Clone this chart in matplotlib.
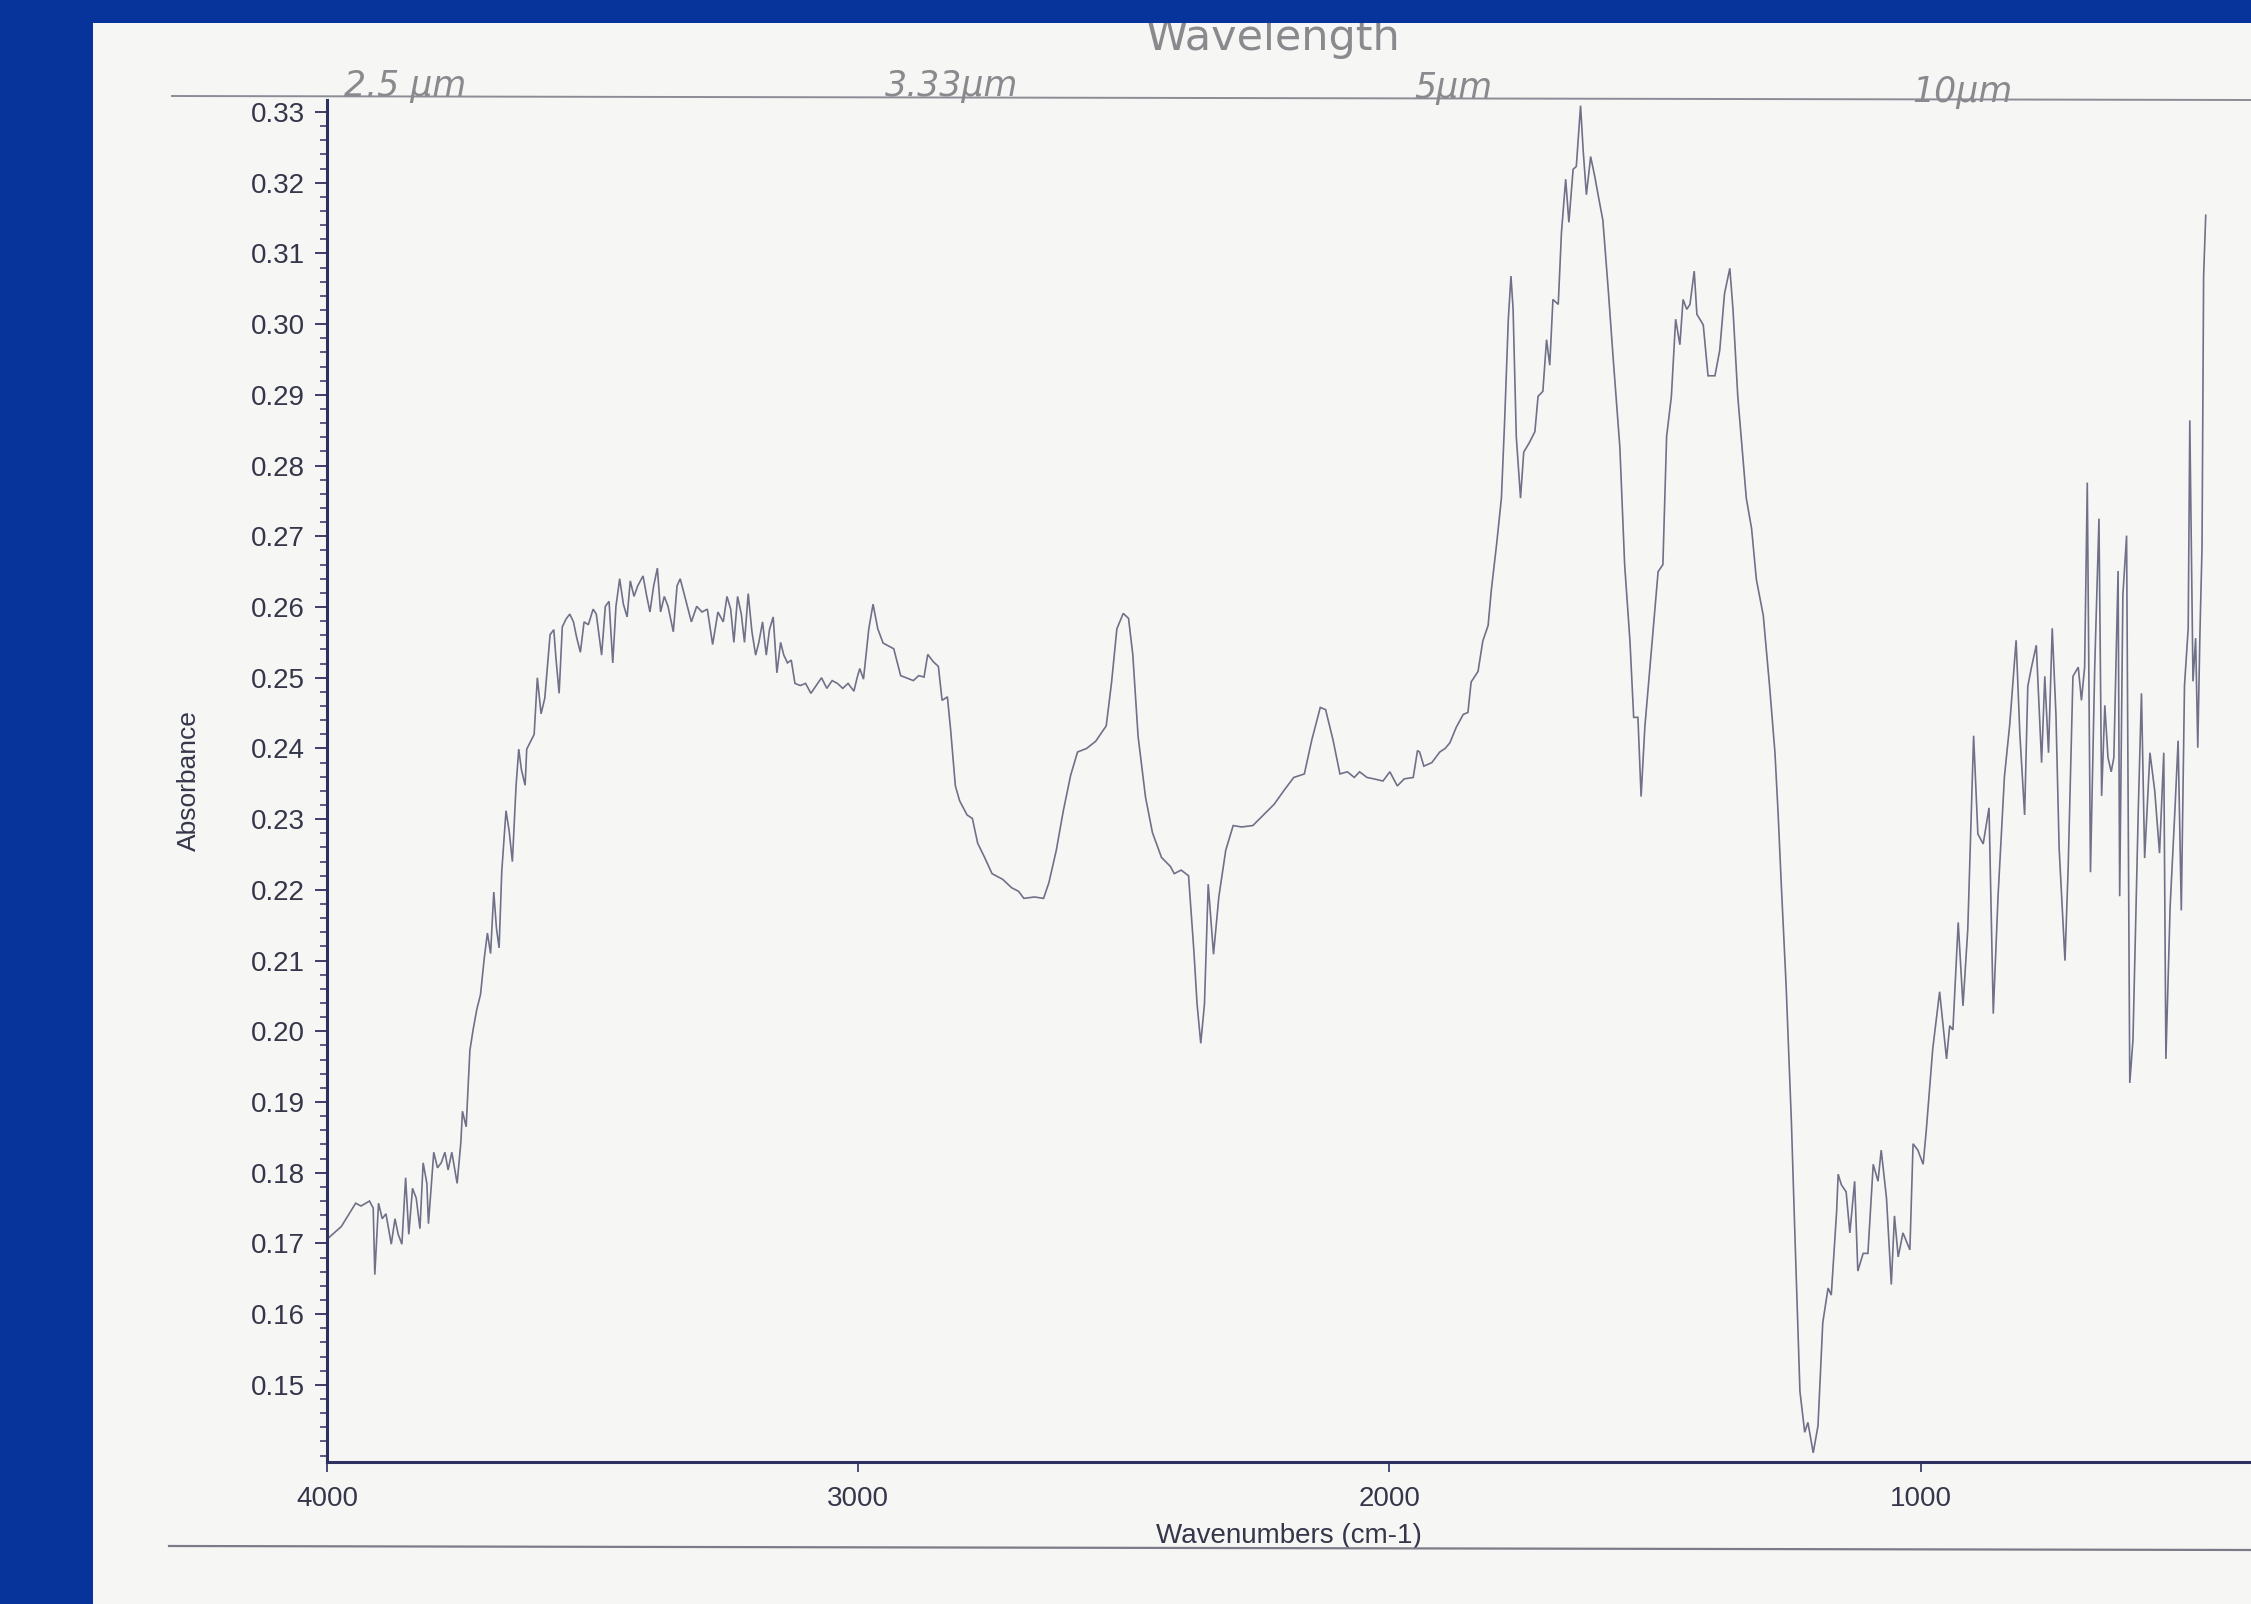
import matplotlib
matplotlib.use("Agg")
import matplotlib.pyplot as plt
from matplotlib.patches import Rectangle
from matplotlib.lines import Line2D
from matplotlib.ticker import MultipleLocator, FixedLocator

# ---------------- data ----------------
wavenumber = [
    4000, 3973, 3946, 3936, 3920, 3913, 3910, 3903, 3896, 3889, 3879, 3872, 3866, 3859, 3852,
    3846, 3839, 3832, 3825, 3819, 3812, 3809, 3799, 3792, 3785, 3778, 3772, 3765, 3755, 3748,
    3745, 3738, 3731, 3725, 3718, 3711, 3704, 3698, 3692, 3686, 3681, 3676, 3671, 3663, 3657,
    3651, 3644, 3639, 3634, 3627, 3624, 3610, 3604, 3597, 3590, 3580, 3573, 3569, 3563, 3557,
    3550, 3543, 3536, 3530, 3523, 3516, 3508, 3499, 3493, 3483, 3476, 3469, 3462, 3456, 3449,
    3442, 3435, 3429, 3422, 3415, 3405, 3398, 3392, 3385, 3378, 3372, 3365, 3358, 3348, 3341,
    3335, 3325, 3314, 3304, 3294, 3284, 3274, 3264, 3254, 3247, 3240, 3234, 3227, 3220, 3214,
    3207, 3200, 3193, 3187, 3180, 3173, 3167, 3160, 3153, 3146, 3140, 3133, 3126, 3119, 3109,
    3099, 3089, 3079, 3069, 3059, 3049, 3039, 3029, 3019, 3008, 3002,
    2997, 2990, 2980, 2972, 2963, 2953, 2933, 2920, 2896, 2886, 2876, 2869, 2859, 2849, 2842,
    2832, 2826, 2817, 2809, 2795, 2785, 2775, 2762, 2748, 2728, 2711, 2698, 2688, 2668, 2651,
    2641, 2627, 2614, 2600, 2587, 2570, 2553, 2533, 2523, 2513, 2501, 2491, 2483, 2473, 2459,
    2446, 2429, 2412, 2405, 2392, 2378, 2368, 2362, 2355, 2348, 2341, 2331, 2321, 2308, 2294,
    2278, 2257, 2237, 2217, 2197, 2180, 2160, 2146, 2130, 2120, 2106, 2093, 2079, 2066, 2056,
    2042, 2029, 2012, 1999, 1985, 1972, 1955, 1947, 1943, 1935, 1920, 1905, 1895,
    1886, 1874, 1861, 1852, 1846, 1833, 1824, 1814, 1808, 1798, 1789, 1783, 1776, 1771, 1767,
    1761, 1753, 1747, 1736, 1726, 1720, 1711, 1704, 1698, 1692, 1682, 1676, 1668, 1662, 1654,
    1648, 1640, 1635, 1629, 1621, 1613, 1607, 1598, 1588, 1579, 1566, 1557, 1547, 1540, 1532,
    1526, 1519, 1510, 1500, 1494, 1485, 1478, 1469, 1461, 1453, 1447, 1440, 1434, 1426, 1421,
    1409, 1400, 1387, 1378, 1369, 1359, 1353, 1344, 1328, 1318, 1309, 1296, 1284, 1274, 1268,
    1262,
    1253, 1243, 1237, 1227, 1218, 1212, 1202, 1193, 1184, 1174, 1168, 1158, 1155, 1149, 1140,
    1133, 1124, 1118, 1108, 1099, 1089, 1080, 1074, 1064, 1055, 1049, 1042, 1033, 1020, 1014,
    1005, 995, 989,
    977, 964, 951, 945, 939, 929, 920, 911, 900, 892, 882, 871, 863, 854, 842,
    832, 820, 813, 804, 798, 791, 782, 772, 766, 759, 752, 745, 739, 728, 722,
    713, 703, 697, 691, 686, 680, 672, 664, 659, 653, 647, 641, 636, 628, 625,
    619, 612, 606, 600, 590, 584, 578, 568, 559, 550, 542, 538, 530, 521, 515,
    509, 503, 496, 493, 487, 482, 478, 474, 470, 467, 463,
]

absorbance = [
    0.1706, 0.1724, 0.1757, 0.1753, 0.1760, 0.1750, 0.1656, 0.1757, 0.1735, 0.1742, 0.1699, 0.1735, 0.1713, 0.1699, 0.1793,
    0.1713, 0.1778, 0.1764, 0.1721, 0.1814, 0.1785, 0.1728, 0.1829, 0.1807, 0.1814, 0.1829, 0.1804, 0.1829, 0.1785, 0.1843,
    0.1887, 0.1865, 0.1973, 0.2002, 0.2031, 0.2052, 0.2103, 0.2139, 0.2110, 0.2197, 0.2146, 0.2118, 0.2226, 0.2312, 0.2283,
    0.2240, 0.2348, 0.2399, 0.2370, 0.2348, 0.2399, 0.2420, 0.2500, 0.2449, 0.2471, 0.2561, 0.2568, 0.2528, 0.2478, 0.2572,
    0.2583, 0.2590, 0.2579, 0.2557, 0.2536, 0.2579, 0.2575, 0.2597, 0.2590, 0.2532, 0.2601, 0.2608, 0.2521, 0.2601, 0.2640,
    0.2604, 0.2586, 0.2637, 0.2615, 0.2630, 0.2644, 0.2615, 0.2593, 0.2630, 0.2655, 0.2593, 0.2615, 0.2601, 0.2565, 0.2630,
    0.2640, 0.2611, 0.2579, 0.2601, 0.2593, 0.2597, 0.2547, 0.2593, 0.2579, 0.2615, 0.2597, 0.2550, 0.2615, 0.2590, 0.2550,
    0.2619, 0.2565, 0.2532, 0.2550, 0.2579, 0.2532, 0.2568, 0.2586, 0.2507, 0.2550, 0.2532, 0.2521, 0.2525, 0.2492, 0.2489,
    0.2492, 0.2478, 0.2489, 0.2500, 0.2485, 0.2496, 0.2492, 0.2485, 0.2492, 0.2481, 0.2500,
    0.2513, 0.2498, 0.2569, 0.2604, 0.2569, 0.2549, 0.2541, 0.2503, 0.2496, 0.2503, 0.2501, 0.2533, 0.2523, 0.2516, 0.2468,
    0.2473, 0.2427, 0.2347, 0.2326, 0.2306, 0.2301, 0.2266, 0.2246, 0.2223, 0.2215, 0.2203, 0.2198, 0.2188, 0.2190, 0.2188,
    0.2210, 0.2256, 0.2311, 0.2362, 0.2395, 0.2400, 0.2410, 0.2432, 0.2493, 0.2569, 0.2591, 0.2584, 0.2533, 0.2417, 0.2331,
    0.2281, 0.2246, 0.2233, 0.2223, 0.2228, 0.2220, 0.2114, 0.2039, 0.1983, 0.2039, 0.2208, 0.2109, 0.2190, 0.2256, 0.2291,
    0.2289, 0.2291, 0.2306, 0.2321, 0.2342, 0.2359, 0.2364, 0.2412, 0.2458, 0.2455, 0.2412, 0.2364, 0.2367, 0.2359, 0.2367,
    0.2359, 0.2357, 0.2354, 0.2367, 0.2347, 0.2357, 0.2359, 0.2397, 0.2395, 0.2375, 0.2380, 0.2395, 0.2400,
    0.2408, 0.2430, 0.2448, 0.2451, 0.2494, 0.2509, 0.2552, 0.2574, 0.2624, 0.2689, 0.2754, 0.2862, 0.3007, 0.3068, 0.3021,
    0.2841, 0.2754, 0.2819, 0.2833, 0.2848, 0.2898, 0.2905, 0.2978, 0.2942, 0.3035, 0.3028, 0.3129, 0.3205, 0.3144, 0.3219,
    0.3223, 0.3309, 0.3245, 0.3183, 0.3237, 0.3208, 0.3183, 0.3147, 0.3050, 0.2956, 0.2826, 0.2660, 0.2552, 0.2444, 0.2444,
    0.2332, 0.2430, 0.2509, 0.2595, 0.2650, 0.2660, 0.2841, 0.2898, 0.3007, 0.2971, 0.3035, 0.3021, 0.3028, 0.3075, 0.3014,
    0.2999, 0.2927, 0.2927, 0.2963, 0.3043, 0.3079, 0.3021, 0.2898, 0.2754, 0.2711, 0.2639, 0.2588, 0.2487, 0.2394, 0.2307,
    0.2206,
    0.2065, 0.1871, 0.1725, 0.1491, 0.1433, 0.1447, 0.1404, 0.1442, 0.1588, 0.1637, 0.1627, 0.1744, 0.1798, 0.1783, 0.1773,
    0.1715, 0.1788, 0.1661, 0.1686, 0.1686, 0.1812, 0.1788, 0.1832, 0.1764, 0.1642, 0.1739, 0.1681, 0.1715, 0.1691, 0.1841,
    0.1832, 0.1812, 0.1861,
    0.1975, 0.2056, 0.1961, 0.2008, 0.2002, 0.2154, 0.2036, 0.2144, 0.2418, 0.2279, 0.2265, 0.2316, 0.2025, 0.2191, 0.2360,
    0.2434, 0.2553, 0.2421, 0.2306, 0.2488, 0.2515, 0.2546, 0.2380, 0.2502, 0.2394, 0.2570, 0.2448, 0.2259, 0.2100, 0.2231,
    0.2502, 0.2515, 0.2468, 0.2515, 0.2776, 0.2225, 0.2515, 0.2725, 0.2333, 0.2461, 0.2387, 0.2367, 0.2387, 0.2651, 0.2191,
    0.2617, 0.2701, 0.1927, 0.1988, 0.2313, 0.2478, 0.2245, 0.2394, 0.2340, 0.2252, 0.2394, 0.1961, 0.2177, 0.2313, 0.2411,
    0.2171, 0.2489, 0.2570, 0.2864, 0.2495, 0.2556, 0.2401, 0.2560, 0.2684, 0.3068, 0.3154,
]

x_ticks = [4000, 3000, 2000, 1000]
x_tick_labels = ["4000", "3000", "2000", "1000"]
y_ticks = [0.15, 0.16, 0.17, 0.18, 0.19, 0.20, 0.21, 0.22, 0.23, 0.24,
           0.25, 0.26, 0.27, 0.28, 0.29, 0.30, 0.31, 0.32, 0.33]
x_label = "Wavenumbers (cm-1)"
y_label = "Absorbance"
title_note = "Wavelength"
wavelength_notes = ["2.5 μm", "3.33μm", "5μm", "10μm"]

# ---------------- figure layout ----------------
W, H = 2251, 1604
BLUE = "#07349A"
PAPER = "#F6F7F5"
SPINE = "#2E3060"
TEXT = "#35364A"
PENCIL = "#8A8A8E"
LINE = "#707088"

plt.rcParams["font.family"] = ["Liberation Sans", "DejaVu Sans"]

fig = plt.figure(figsize=(W / 100, H / 100), dpi=100)
fig.patch.set_facecolor(BLUE)


def fx(px):
    return px / W


def fy(py):
    return 1 - py / H


# paper
fig.add_artist(Rectangle((fx(93), 0), 1 - fx(93), fy(23), transform=fig.transFigure,
                         facecolor=PAPER, edgecolor="none", zorder=0))

# printed frame lines (top and bottom)
fig.add_artist(Line2D([fx(172), 1.0], [fy(96), fy(100)], transform=fig.transFigure,
                      color="#8C8C96", lw=1.4, zorder=1))
fig.add_artist(Line2D([fx(169), 1.0], [fy(1546), fy(1550)], transform=fig.transFigure,
                      color="#7C7C88", lw=1.6, zorder=1))

# axes
ax_left, ax_right, ax_top, ax_bottom = 327, 2251, 100, 1462
ax = fig.add_axes([fx(ax_left), fy(ax_bottom), fx(ax_right - ax_left), (ax_bottom - ax_top) / H])
ax.set_facecolor("none")

px_per_wn = (1920.8 - 327.3) / 3000.0
x_right = 4000 - (ax_right - ax_left) / px_per_wn
ax.set_xlim(4000, x_right)
ax.set_ylim(0.1391, 0.3317)

ax.plot(wavenumber, absorbance, color=LINE, lw=1.2, solid_joinstyle="miter")

for s in ["top", "right"]:
    ax.spines[s].set_visible(False)
for s in ["left", "bottom"]:
    ax.spines[s].set_color(SPINE)
    ax.spines[s].set_linewidth(2.2)

ax.xaxis.set_major_locator(FixedLocator(x_ticks))
ax.set_xticklabels(x_tick_labels)
ax.yaxis.set_major_locator(FixedLocator(y_ticks))
ax.set_yticklabels([f"{v:.2f}" for v in y_ticks])
ax.yaxis.set_minor_locator(MultipleLocator(0.002))

ax.tick_params(axis="y", which="major", direction="out", length=9, width=1.3, color=SPINE,
               labelsize=20, labelcolor=TEXT, pad=7)
ax.tick_params(axis="y", which="minor", direction="out", length=5, width=1.1, color=SPINE)
ax.tick_params(axis="x", which="major", direction="out", length=7, width=1.2, color=SPINE,
               labelsize=20, labelcolor=TEXT, pad=10)

ax.set_xlabel(x_label, fontsize=20, color=TEXT, labelpad=8)
ax.set_ylabel(y_label, fontsize=19, color=TEXT, labelpad=36)

# handwritten pencil notes (sitting on the top printed line)
note_pos = [(405, 96), (952, 96), (1453, 98), (1962, 102)]
for txt, (px, py) in zip(wavelength_notes, note_pos):
    fig.text(fx(px), fy(py), txt, ha="center", va="baseline", fontsize=25, color=PENCIL,
             family=["DejaVu Sans"], fontstyle="italic", zorder=2)
fig.text(fx(1273), fy(50), title_note, ha="center", va="baseline", fontsize=31, color=PENCIL,
         family=["DejaVu Sans"], zorder=2)

# blue band on top (covers the top of the handwriting as in the scan)
fig.add_artist(Rectangle((0, fy(23)), 1, 1 - fy(23), transform=fig.transFigure,
                         facecolor=BLUE, edgecolor="none", zorder=5))

fig.savefig("out.png", dpi=100, facecolor=fig.get_facecolor())
